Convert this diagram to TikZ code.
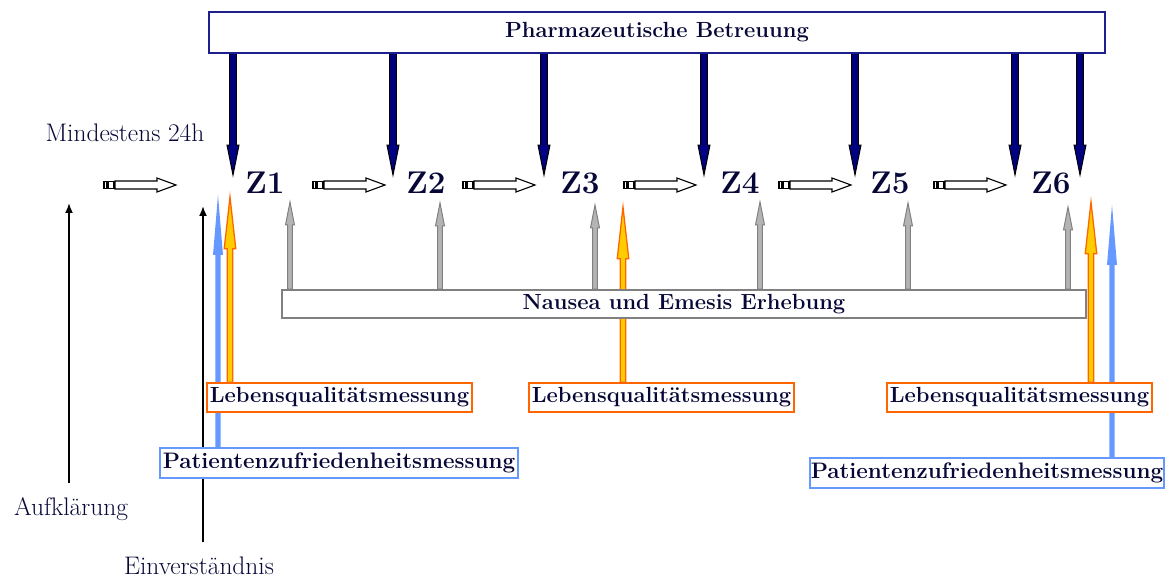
\documentclass[tikz,border=0pt]{standalone}
\usepackage{fontspec}
\usetikzlibrary{calc,arrows.meta}
\definecolor{ink}{RGB}{8,8,56}
\definecolor{navy}{RGB}{0,0,128}
\definecolor{boxnavy}{RGB}{30,30,140}
\definecolor{qlorange}{RGB}{255,102,0}
\definecolor{qlyellow}{RGB}{255,204,0}
\definecolor{pzblue}{RGB}{102,153,255}
\definecolor{nvgray}{RGB}{128,128,128}
\definecolor{nvlight}{RGB}{180,180,180}
\pgfdeclarelayer{bg}
\pgfsetlayers{bg,main}

% vertical block arrow: #1 style, #2 start, #3 tip,
% #4 half shaft width, #5 half head width, #6 head length
\newcommand\fatarrow[6]{%
  \path[#1] let \p1=(#2), \p2=(#3), \n1={ifthenelse(\y2>\y1,1,-1)} in
    ({\x1-#4},{\y1}) -- ({\x1-#4},{\y2-(\n1)*#6}) -- ({\x1-#5},{\y2-(\n1)*#6})
    -- ({\x1},{\y2}) -- ({\x1+#5},{\y2-(\n1)*#6}) -- ({\x1+#4},{\y2-(\n1)*#6})
    -- ({\x1+#4},{\y1}) -- cycle;}

\tikzset{
  lbl/.style={text=ink, font=\bfseries\fontsize{22}{24}\selectfont, inner sep=0pt},
  plain/.style={text=ink, font=\fontsize{25.5}{28}\selectfont, inner sep=0pt, anchor=base},
  zlbl/.style={text=ink, font=\bfseries\fontsize{31.5}{34}\selectfont, anchor=base, inner sep=0pt},
  pbbox/.style={lbl, draw=boxnavy, fill=white, line width=1.3pt},
  nvbox/.style={lbl, draw=nvgray, fill=white, line width=1.8pt},
  lqbox/.style={lbl, draw=qlorange, fill=white, line width=1.5pt},
  pzbox/.style={lbl, draw=pzblue, fill=white, line width=1.8pt},
  navyarr/.style={fill=navy, draw=black, line width=1pt},
  grayarr/.style={fill=nvlight, draw=nvgray, line width=1pt},
  orangearr/.style={fill=qlyellow, draw=qlorange, line width=1.3pt},
  bluearr/.style={fill=pzblue},
  blk/.style={line width=1.8pt, -{Latex[length=10pt,width=8pt]}},
  blockarr/.pic={
    \draw[line width=1.1pt, fill=white] (0,-3.5) rectangle (3,3.5);
    \draw[line width=1.1pt, fill=white] (4.5,-3.5) rectangle (10,3.5);
    \draw[line width=1.1pt, fill=white] (11,-4) -- (53,-4) -- (53,-7) -- (72,0)
      -- (53,7) -- (53,4) -- (11,4) -- cycle;
  }
}

\begin{document}
\begin{tikzpicture}[x=1bp, y=-1bp]
\useasboundingbox (0,0) rectangle (1166,579);

% boxes
\node[pbbox, minimum width=896bp, minimum height=41bp] (pb) at (657,32.5) {Pharmazeutische Betreuung};
\node[nvbox, minimum width=804bp, minimum height=28bp] (nv) at (684,304) {Nausea und Emesis Erhebung};
\node[lqbox, minimum width=265bp, minimum height=29bp] (lq1) at (339.5,397.5) {Lebensqualitätsmessung};
\node[lqbox, minimum width=265bp, minimum height=29bp] (lq2) at (661.5,397.5) {Lebensqualitätsmessung};
\node[lqbox, minimum width=265bp, minimum height=29bp] (lq3) at (1019.5,397.5) {Lebensqualitätsmessung};
\node[pzbox, minimum width=358bp, minimum height=30bp] (pz1) at (339,463) {\fontsize{22.5}{25}\selectfont Patientenzufriedenheitsmessung};
\node[pzbox, minimum width=354bp, minimum height=30bp] (pz2) at (987,473) {\fontsize{22.5}{25}\selectfont Patientenzufriedenheitsmessung};

% time points
\node[zlbl] (z1) at (265,194) {Z1};
\node[zlbl] (z2) at (426,194) {Z2};
\node[zlbl] (z3) at (580,194) {Z3};
\node[zlbl] (z4) at (740,194) {Z4};
\node[zlbl] (z5) at (890,194) {Z5};
\node[zlbl] (z6) at (1051,194) {Z6};

% free texts
\node[plain] (mind) at (125,142) {Mindestens 24h};
\node[plain] (auf) at (71,515) {Aufklärung};
\node[plain] (ein) at (199,574) {Einverständnis};

% hollow arrows along the time line
\pic at (104,185) {blockarr};
\pic at (313,185) {blockarr};
\pic at (463,185) {blockarr};
\pic at (624,185) {blockarr};
\pic at (779,185) {blockarr};
\pic at (934,185) {blockarr};

% arrow tips
\coordinate (t1) at (233,175);
\coordinate (t2) at (393,175);
\coordinate (t3) at (544,175);
\coordinate (t4) at (704,175);
\coordinate (t5) at (855,175);
\coordinate (t6) at (1015,175);
\coordinate (t7) at (1080,175);
\coordinate (g1) at (290,202);
\coordinate (g2) at (440,203);
\coordinate (g3) at (595,205);
\coordinate (g4) at (760,202);
\coordinate (g5) at (908,203);
\coordinate (g6) at (1068,207);
\coordinate (o1) at (230,197);
\coordinate (o2) at (623,207);
\coordinate (o3) at (1091,202);
\coordinate (b1) at (218,195);
\coordinate (b2) at (1112,205);
\coordinate (a1) at (69,483);
\coordinate (a1t) at (69,203);
\coordinate (e1) at (203,542);
\coordinate (e1t) at (203,206);

\begin{pgfonlayer}{bg}
  \foreach \i in {1,...,7} {\fatarrow{navyarr}{pb.south -| t\i}{t\i}{3.5pt}{6pt}{30pt}}
  \foreach \i in {1,...,6} {\fatarrow{grayarr}{nv.north -| g\i}{g\i}{2.3pt}{4.5pt}{23pt}}
  \fatarrow{bluearr}{pz1.north -| b1}{b1}{2.6pt}{5pt}{60pt}
  \fatarrow{bluearr}{pz2.north -| b2}{b2}{2.6pt}{5pt}{60pt}
  \fatarrow{orangearr}{lq1.north -| o1}{o1}{2.8pt}{5.8pt}{52pt}
  \fatarrow{orangearr}{lq2.north -| o2}{o2}{2.8pt}{5.8pt}{52pt}
  \fatarrow{orangearr}{lq3.north -| o3}{o3}{2.8pt}{5.8pt}{52pt}
  \draw[blk] (a1) -- (a1t);
  \draw[blk] (e1) -- (e1t);
\end{pgfonlayer}
\end{tikzpicture}
\end{document}
